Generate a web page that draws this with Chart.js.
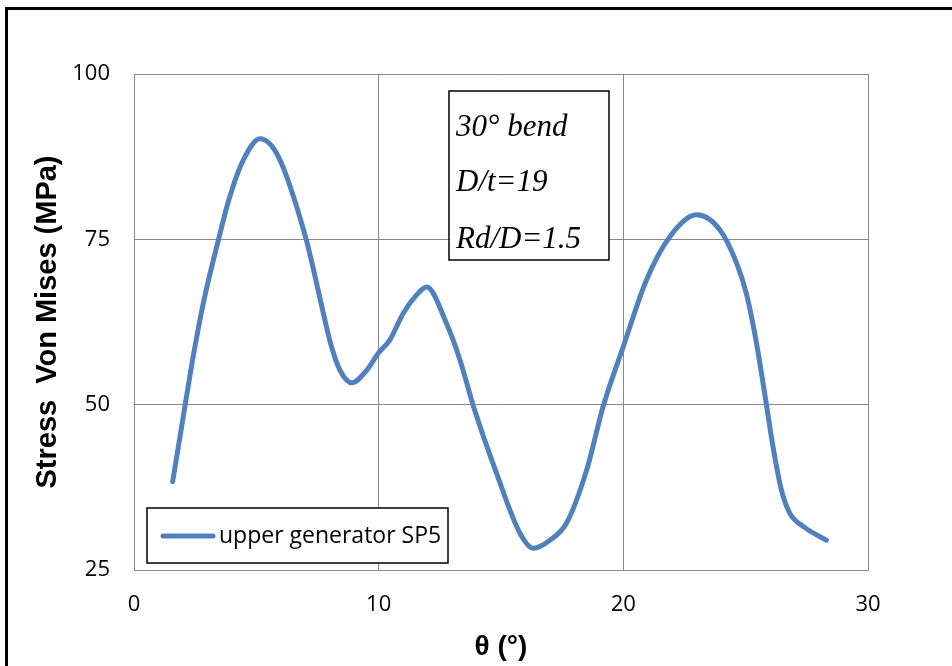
<!DOCTYPE html>
<html>
<head>
<meta charset="utf-8">
<script src="https://cdn.jsdelivr.net/npm/chart.js@4"></script>
<style>
  html,body{margin:0;padding:0;background:#fff;}
  #wrap{position:relative;width:952px;height:666px;overflow:hidden;}
  #frame{position:absolute;left:5px;top:7px;width:1000px;height:656px;border:3px solid #000;box-sizing:content-box;pointer-events:none;}
  canvas{position:absolute;left:0;top:0;}
</style>
</head>
<body>
<div id="wrap">
  <canvas id="c" width="952" height="666"></canvas>
  <div id="frame"></div>
</div>
<script>
// ---- data ----
const thetaDeg = [1.58, 2.08, 2.42, 2.83, 3.45, 3.92, 4.47, 5.15, 5.9, 7.0, 7.40, 7.74, 8.07, 8.42, 8.9, 9.51, 9.99, 10.46, 11.0, 11.55, 11.96, 12.77, 13.32, 13.87, 14.82, 15.77, 16.32, 17.0, 17.68, 18.5, 19.18, 20.0, 20.95, 21.9, 23.0, 23.95, 24.63, 25.03, 25.37, 25.65, 25.85, 26.12, 26.46, 26.8, 27.35, 28.3];
const stressMPa = [38.35, 49.7, 57.3, 65.3, 74.9, 81.5, 87.0, 90.2, 87.5, 75.5, 69.4, 63.8, 58.8, 55.2, 53.3, 55.2, 57.8, 59.8, 63.8, 66.6, 67.8, 62.3, 56.8, 49.8, 39.6, 30.6, 28.3, 29.5, 32.1, 40.1, 49.8, 58.8, 68.9, 75.4, 78.7, 76.4, 71.4, 66.8, 60.8, 54.7, 49.95, 43.6, 37.1, 33.6, 31.6, 29.5];
const seriesName = "upper generator SP5";
const xTicks = [0, 10, 20, 30];
const yTicks = [25, 50, 75, 100];
const noteLines = ["30\u00B0 bend", "D/t=19", "Rd/D=1.5"];
const yTitle = "Stress  Von Mises (MPa)";
const xTitle = "\u03B8 (\u00B0)";

const points = thetaDeg.map((x, i) => ({x: x, y: stressMPa[i]}));
const lineColor = "#4f81bd";
const gridColor = "#888888";

const overlayPlugin = {
  id: "overlay",
  afterDraw(chart) {
    const ctx = chart.ctx;
    const ca = chart.chartArea;
    ctx.save();
    // annotation box
    const bx = ca.left + 315, by = ca.top + 17, bw = 160, bh = 169;
    ctx.fillStyle = "#fff";
    ctx.fillRect(bx, by, bw, bh);
    ctx.strokeStyle = "#000";
    ctx.lineWidth = 1.5;
    ctx.strokeRect(bx, by, bw, bh);
    ctx.fillStyle = "#000";
    ctx.font = "italic 31px 'Liberation Serif'";
    ctx.textAlign = "left";
    ctx.textBaseline = "alphabetic";
    const baselines = [136, 191, 248];
    noteLines.forEach((t, i) => ctx.fillText(t, bx + 7, baselines[i]));
    // legend box
    const lx = ca.left + 13, ly = ca.bottom - 62, lw = 301, lh = 55;
    ctx.fillStyle = "#fff";
    ctx.fillRect(lx, ly, lw, lh);
    ctx.strokeStyle = "#000";
    ctx.lineWidth = 1.5;
    ctx.strokeRect(lx, ly, lw, lh);
    const ds = chart.data.datasets[0];
    ctx.strokeStyle = ds.borderColor;
    ctx.lineWidth = ds.borderWidth;
    ctx.lineCap = "round";
    ctx.beginPath();
    ctx.moveTo(lx + 16, ly + 28);
    ctx.lineTo(lx + 66, ly + 28);
    ctx.stroke();
    ctx.fillStyle = "#000";
    ctx.font = "23px 'Open Sans'";
    ctx.textBaseline = "middle";
    ctx.fillText(ds.label, lx + 72, ly + 28);
    ctx.restore();
  }
};

new Chart(document.getElementById("c"), {
  type: "scatter",
  data: {
    datasets: [{
      label: seriesName,
      data: points,
      showLine: true,
      borderColor: lineColor,
      backgroundColor: lineColor,
      borderWidth: 5,
      pointRadius: 0,
      pointHoverRadius: 0,
      cubicInterpolationMode: "monotone",
      borderCapStyle: "round",
      borderJoinStyle: "round"
    }]
  },
  options: {
    responsive: false,
    animation: false,
    events: [],
    layout: { padding: { top: 74, right: 84, left: 0, bottom: 0 } },
    plugins: { legend: { display: false }, tooltip: { enabled: false } },
    scales: {
      x: {
        type: "linear",
        min: xTicks[0], max: xTicks[xTicks.length - 1],
        afterBuildTicks(s) { s.ticks = xTicks.map(v => ({value: v})); },
        afterFit(s) { s.height = 96; },
        grid: { color: gridColor, lineWidth: 1, drawTicks: false },
        border: { display: true, color: gridColor, width: 1 },
        ticks: { color: "#000", font: { family: "'Open Sans'", size: 22 }, padding: 22, maxRotation: 0 },
        title: { display: true, text: xTitle, color: "#000",
                 font: { family: "'Liberation Sans'", size: 28, weight: "bold" },
                 padding: { top: 0, bottom: 2 } }
      },
      y: {
        type: "linear",
        min: yTicks[0], max: yTicks[yTicks.length - 1],
        afterBuildTicks(s) { s.ticks = yTicks.map(v => ({value: v})); },
        afterFit(s) { s.width = 134; },
        grid: { color: gridColor, lineWidth: 1, drawTicks: false },
        border: { display: true, color: gridColor, width: 1 },
        ticks: { color: "#000", font: { family: "'Open Sans'", size: 22 }, padding: 24 },
        title: { display: true, text: yTitle, color: "#000",
                 font: { family: "'Liberation Sans'", size: 29, weight: "bold" },
                 padding: { top: 31, bottom: 0 } }
      }
    }
  },
  plugins: [overlayPlugin]
});
</script>
</body>
</html>
